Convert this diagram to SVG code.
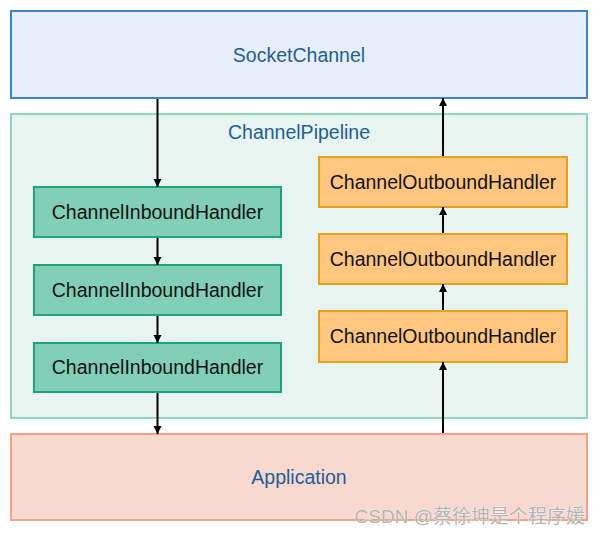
<svg xmlns="http://www.w3.org/2000/svg" width="600" height="535" viewBox="0 0 600 535">
  <style>
    .lbl { font-family: "Liberation Sans", Arial, sans-serif; font-size: 19.5px; text-anchor: middle; }
    .blue { fill: #1f5f96; }
    .blk { fill: #111111; }
    .in { fill: #80cfb6; stroke: #1ba47f; stroke-width: 2; }
    .out { fill: #ffc680; stroke: #e5a11a; stroke-width: 2; }
    .conn { stroke: #000000; stroke-width: 2; fill: none; marker-end: url(#arr); }
    .wm { font-family: "Liberation Sans", "Noto Sans CJK SC", sans-serif; font-size: 19px; fill: #b4b4b4; stroke: #ffffff; stroke-width: 0.6; paint-order: stroke; text-anchor: end; }
  </style>
  <defs>
    <marker id="arr" viewBox="0 0 10 10" refX="10" refY="5" markerWidth="4" markerHeight="4.5" markerUnits="strokeWidth" orient="auto">
      <path d="M0,0 L10,5 L0,10 z" fill="#000000"/>
    </marker>
  </defs>
  <rect width="600" height="535" fill="#ffffff"/>

  <g id="socketchannel">
    <rect x="11" y="11" width="576" height="87" fill="#e8eef9" stroke="#3b84c6" stroke-width="2"/>
    <text class="lbl blue" x="299" y="62">SocketChannel</text>
  </g>

  <g id="pipeline">
    <rect x="11" y="114" width="576" height="304" fill="#e7f4ef" stroke="#8ed5be" stroke-width="2"/>
    <text class="lbl blue" x="299" y="139">ChannelPipeline</text>
  </g>

  <g id="inbound1">
    <rect class="in" x="34" y="187" width="247" height="50"/>
    <text class="lbl blk" x="157.5" y="219">ChannelInboundHandler</text>
  </g>
  <g id="inbound2">
    <rect class="in" x="34" y="265" width="247" height="50"/>
    <text class="lbl blk" x="157.5" y="297">ChannelInboundHandler</text>
  </g>
  <g id="inbound3">
    <rect class="in" x="34" y="343" width="247" height="49"/>
    <text class="lbl blk" x="157.5" y="374">ChannelInboundHandler</text>
  </g>

  <g id="outbound1">
    <rect class="out" x="319" y="157" width="248" height="50"/>
    <text class="lbl blk" x="443" y="189">ChannelOutboundHandler</text>
  </g>
  <g id="outbound2">
    <rect class="out" x="319" y="234" width="248" height="50"/>
    <text class="lbl blk" x="443" y="266">ChannelOutboundHandler</text>
  </g>
  <g id="outbound3">
    <rect class="out" x="319" y="311" width="248" height="51"/>
    <text class="lbl blk" x="443" y="343">ChannelOutboundHandler</text>
  </g>

  <g id="application">
    <rect x="11" y="434" width="576" height="86" fill="#f8d9cf" stroke="#f2a286" stroke-width="2"/>
    <text class="lbl blue" x="299" y="484">Application</text>
  </g>

  <g id="connectors">
    <line class="conn" x1="157.5" y1="99" x2="157.5" y2="187"/>
    <line class="conn" x1="157.5" y1="238" x2="157.5" y2="265"/>
    <line class="conn" x1="157.5" y1="316" x2="157.5" y2="343"/>
    <line class="conn" x1="157.5" y1="393" x2="157.5" y2="434"/>
    <line class="conn" x1="443" y1="433" x2="443" y2="362"/>
    <line class="conn" x1="443" y1="310" x2="443" y2="284"/>
    <line class="conn" x1="443" y1="233" x2="443" y2="207"/>
    <line class="conn" x1="443" y1="156" x2="443" y2="98"/>
  </g>

  <text class="wm" x="585" y="523">CSDN @蔡徐坤是个程序媛</text>
</svg>
